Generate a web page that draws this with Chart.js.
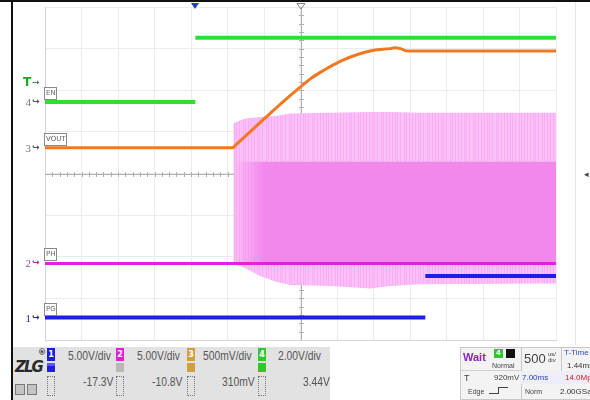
<!DOCTYPE html>
<html><head><meta charset="utf-8">
<script src="https://cdn.jsdelivr.net/npm/chart.js@4/dist/chart.umd.min.js"></script>
<style>
html,body{margin:0;padding:0;background:#fff;}
#wrap{position:relative;width:590px;height:400px;overflow:hidden;font-family:"Liberation Sans",Arial,sans-serif;}
#c{position:absolute;left:0;top:0;}
.t{position:absolute;white-space:nowrap;line-height:1;}
.n{transform:scaleX(0.86);transform-origin:0 0;font-size:12px;color:#555;}
.box{position:absolute;box-sizing:border-box;}
.cb{position:absolute;width:8px;height:13px;color:#fff;font:bold 8px 'DejaVu Sans';text-align:center;line-height:13px;}
</style></head><body>
<div id="wrap">
<canvas id="c" width="590" height="400"></canvas>
<div class="box" style="left:0;top:0;width:590px;height:2px;background:#111"></div>
<div class="box" style="left:11px;top:0;width:2px;height:400px;background:#111"></div>
<div class="box" style="left:575px;top:2px;width:1px;height:343px;background:#e4e4e4"></div>
<div class="t" style="left:584px;top:169px;font:9px 'DejaVu Sans';color:#444">&#9666;</div>
<div class="box" style="left:13px;top:347px;width:317px;height:53px;background:#e2e2e2"></div>
<!-- logo -->
<div class="t" style="left:15px;top:358px;font:italic bold 15px 'DejaVu Sans';color:#2a2a2a;letter-spacing:-2px">ZLG</div>
<div class="t" style="left:38px;top:348px;font:bold 8px 'DejaVu Sans';color:#333">&#174;</div>
<div class="box" style="left:15px;top:384px;width:10px;height:11px;background:#c4c4c4;border:1px solid #7a7a7a"></div>
<div class="box" style="left:27px;top:384px;width:10px;height:11px;background:#c4c4c4;border:1px solid #7a7a7a"></div>
<!-- channel 1 -->
<div class="cb" style="left:47px;top:348px;background:#1e1ee0">1</div>
<div class="box" style="left:47px;top:363px;width:8px;height:9px;background:#1e1ee0;border-top:3px solid #5a5af0"></div>
<div class="box" style="left:47px;top:376px;width:8px;height:20px;border:1px dotted #777"></div>
<div class="t n" style="left:68px;top:350px">5.00V/div</div>
<div class="t n" style="left:83px;top:376px">-17.3V</div>
<!-- channel 2 -->
<div class="cb" style="left:116px;top:348px;background:#e020d8">2</div>
<div class="box" style="left:116px;top:363px;width:8px;height:9px;background:#b8b8b8"></div>
<div class="box" style="left:116px;top:376px;width:8px;height:20px;border:1px dotted #777"></div>
<div class="t n" style="left:137px;top:350px">5.00V/div</div>
<div class="t n" style="left:152px;top:376px">-10.8V</div>
<!-- channel 3 -->
<div class="cb" style="left:187px;top:348px;background:#d0a040">3</div>
<div class="box" style="left:187px;top:363px;width:8px;height:9px;background:#d0a040"></div>
<div class="box" style="left:187px;top:376px;width:8px;height:20px;border:1px dotted #777"></div>
<div class="t n" style="left:203px;top:350px">500mV/div</div>
<div class="t n" style="left:222px;top:376px">310mV</div>
<!-- channel 4 -->
<div class="cb" style="left:258px;top:348px;background:#2ec82e">4</div>
<div class="box" style="left:258px;top:363px;width:8px;height:9px;background:#2ec82e"></div>
<div class="box" style="left:258px;top:376px;width:8px;height:20px;border:1px dotted #777"></div>
<div class="t n" style="left:278px;top:350px">2.00V/div</div>
<div class="t n" style="left:303px;top:376px">3.44V</div>
<!-- right panel: trigger -->
<div class="box" style="left:460px;top:347px;width:62px;height:53px;background:#f3f3f3;border:1px solid #c8c8c8"></div>
<div class="box" style="left:460px;top:370px;width:62px;height:1px;background:#d0d0d0"></div>
<div class="t" style="left:463px;top:351px;font:bold 11px 'Liberation Sans';color:#8a22c8">Wait</div>
<div class="cb" style="left:494px;top:349px;width:9px;height:9px;line-height:9px;font-size:7px;background:#2ec82e">4</div>
<div class="box" style="left:506px;top:349px;width:9px;height:9px;background:#111;border-top:3px solid #111;border-bottom:3px solid #111;background-clip:content-box;"></div>
<div class="t" style="left:492px;top:362px;font-size:7px;color:#444">Normal</div>
<div class="t" style="left:464px;top:374px;font-size:9px;color:#444">T</div>
<div class="t" style="left:494px;top:374px;font-size:8px;color:#444">920mV</div>
<div class="t" style="left:468px;top:388px;font-size:7px;color:#444">Edge</div>
<div class="box" style="left:489px;top:393px;width:9px;height:1px;background:#444"></div>
<div class="box" style="left:498px;top:387px;width:1px;height:7px;background:#444"></div>
<div class="box" style="left:498px;top:387px;width:10px;height:1px;background:#444"></div>
<!-- right panel: timebase -->
<div class="box" style="left:521px;top:347px;width:69px;height:53px;background:#f3f3f3;border:1px solid #c8c8c8;border-right:none"></div>
<div class="box" style="left:521px;top:371px;width:69px;height:13px;background:#eeeef8"></div>
<div class="t" style="left:524px;top:352px;font-size:13px;color:#444">500</div>
<div class="t" style="left:548px;top:351px;font-size:6px;color:#444;line-height:6px">us/<br>div</div>
<div class="box" style="left:561px;top:347px;width:1px;height:24px;background:#c8c8c8"></div>
<div class="t" style="left:564px;top:349px;font-size:8px;color:#3050c0">T-Time</div>
<div class="t" style="left:567px;top:362px;font-size:8px;color:#333">1.44ms</div>
<div class="t" style="left:522px;top:374px;font-size:8px;color:#2a40b0">7.00ms</div>
<div class="t" style="left:565px;top:374px;font-size:8px;color:#d02020">14.0Mpt</div>
<div class="t" style="left:525px;top:388px;font-size:7px;color:#444">Norm</div>
<div class="t" style="left:560px;top:388px;font-size:8px;color:#333">2.00GSa/s</div>
</div>
<script>
// channel settings (1: PG, 2: PH, 3: VOUT, 4: EN)
const channelNames = ['PG', 'PH', 'VOUT', 'EN'];
const voltsPerDiv = [5.00, 5.00, 0.500, 2.00];
const channelOffsets = [-17.3, -10.8, 0.310, 3.44];
const channelColors = ['#1e1ee6', '#e61ee0', '#f07820', '#2ee02e'];
const msPerDiv = 0.5;
const tTime = 1.44;        // ms, screen centre relative to trigger
const triggerLevel = 0.92; // V on channel 4

// EN (ch4) – null marks the undrawn fast edge
const enTime  = [-2.06, 0.00, 0.00, 0.00, 4.94];
const enVolts = [0.00, 0.00, null, 3.08, 3.08];
// VOUT (ch3)
const voutTime  = [-2.06, 0.51, 0.55, 0.96, 1.20, 1.44, 1.58, 1.76, 1.99, 2.22, 2.44, 2.67, 2.73, 2.81, 2.91, 4.94];
const voutVolts = [0.00, 0.00, 0.03, 0.36, 0.55, 0.73, 0.83, 0.93, 1.04, 1.12, 1.17, 1.19, 1.20, 1.19, 1.16, 1.16];
// PH (ch2) switching envelope
const phEnvTime = [0.52, 0.62, 0.69, 0.89, 1.10, 1.30, 1.85, 2.40, 2.67, 3.08, 4.94];
const phEnvMax  = [16.8, 17.2, 17.4, 17.6, 17.7, 18.0, 18.1, 18.2, 18.2, 18.1, 18.1];
const phEnvMin  = [-0.1, -0.3, -0.6, -1.5, -2.2, -2.6, -2.7, -3.0, -2.7, -2.5, -2.4];
const phHighTime  = [0.53, 4.94];
const phHighVolts = [12.2, 12.2];
const phLowTime  = [-2.06, 4.94];
const phLowVolts = [0.00, 0.00];
// PG (ch1)
const pgTime  = [-2.06, 3.15, 3.15, 3.15, 4.94];
const pgVolts = [0.00, 0.00, null, 5.00, 5.00];

const xMin = tTime - 7 * msPerDiv, xMax = tTime + 7 * msPerDiv;
const pts = (xs, ys) => xs.map((x, i) => ({x, y: ys[i]}));
const axisRange = i => ({min: -4 * voltsPerDiv[i] - channelOffsets[i], max: 4 * voltsPerDiv[i] - channelOffsets[i]});

const hiddenY = i => Object.assign({
  type: 'linear', display: true, position: 'left',
  grid: {display: false, drawTicks: false}, border: {display: false},
  ticks: {display: false}, afterFit: a => { a.width = 0; }
}, axisRange(i));

function stripePattern(base, dark) {
  const p = document.createElement('canvas'); p.width = 23; p.height = 4;
  const g = p.getContext('2d');
  g.fillStyle = base; g.fillRect(0, 0, 23, 4);
  g.fillStyle = dark;
  [1, 4, 6, 9, 13, 15, 18, 21].forEach(x => g.fillRect(x, 0, 1, 4));
  return g.createPattern(p, 'repeat');
}
const lightPink = stripePattern('#fcc0f8', '#f8acf3');

function midBand(ctx) {
  const chart = ctx.chart, a = chart.chartArea;
  if (!a) return '#f592ef';
  const x = chart.scales.x;
  const g = chart.ctx.createLinearGradient(x.getPixelForValue(phHighTime[0]), 0, x.getPixelForValue(0.95), 0);
  g.addColorStop(0, 'rgba(242,136,236,0)');
  g.addColorStop(1, 'rgba(242,136,236,1)');
  return g;
}

const overlay = {
  id: 'overlay',
  beforeDatasetsDraw(chart) {
    const {ctx, chartArea: a, scales} = chart;
    const cx = Math.round(scales.x.getPixelForValue(tTime)), cy = Math.round(scales.yDiv.getPixelForValue(0));
    ctx.save();
    ctx.strokeStyle = '#b0b0b0'; ctx.lineWidth = 1;
    ctx.beginPath();
    ctx.moveTo(a.left, cy + 0.5); ctx.lineTo(a.right, cy + 0.5);
    ctx.moveTo(cx + 0.5, a.top); ctx.lineTo(cx + 0.5, a.bottom);
    const dx = (a.right - a.left) / 70, dy = (a.bottom - a.top) / 40;
    for (let k = 1; k < 70; k++) { const x = Math.round(a.left + k * dx) + 0.5; ctx.moveTo(x, cy - 2); ctx.lineTo(x, cy + 3); }
    for (let k = 1; k < 40; k++) { const y = Math.round(a.top + k * dy) + 0.5; ctx.moveTo(cx - 2, y); ctx.lineTo(cx + 3, y); }
    ctx.stroke();
    ctx.restore();
  },
  afterDatasetsDraw(chart) {
    const {ctx, chartArea: a, scales} = chart;
    ctx.save();
    ctx.textBaseline = 'middle';
    const ids = ['y1', 'y2', 'y3', 'y4'];
    const tagW = [12, 12, 22, 12];
    const numCol = ['#2a2a9a', '#a84aa0', '#777', '#777'];
    const arrCol = ['#2020b0', '#b030a8', '#555', '#555'];
    ids.forEach((id, i) => {
      const y = Math.round(scales[id].getPixelForValue(0));
      ctx.fillStyle = numCol[i];
      ctx.font = '11px "Liberation Serif"';
      ctx.textAlign = 'right';
      ctx.fillText(String(i + 1), 31, y + 1);
      ctx.font = 'bold 9px "DejaVu Sans"';
      ctx.textAlign = 'left';
      ctx.fillStyle = arrCol[i];
      ctx.fillText('\u21AA', 32, y);
      // name tag
      ctx.fillStyle = '#fff'; ctx.strokeStyle = '#8a8a8a'; ctx.lineWidth = 1;
      ctx.fillRect(a.left - 0.5, y - 14.5, tagW[i], 12);
      ctx.strokeRect(a.left - 0.5, y - 14.5, tagW[i], 12);
      ctx.fillStyle = '#666'; ctx.font = '7px "DejaVu Sans"';
      ctx.fillText(channelNames[i], a.left + 1, y - 8.5);
    });
    // trigger level marker
    const ty = scales.y4.getPixelForValue(triggerLevel);
    ctx.fillStyle = '#1fa81f'; ctx.font = 'bold 12px "DejaVu Sans"'; ctx.textAlign = 'left';
    ctx.fillText('T', 23, ty);
    ctx.fillStyle = '#2a6a2a';
    ctx.font = '9px "DejaVu Sans"'; ctx.fillText('\u2192', 32, ty);
    // top markers
    const tx = Math.round(scales.x.getPixelForValue(0)), hx = Math.round(scales.x.getPixelForValue(tTime));
    ctx.fillStyle = '#2040c0';
    ctx.beginPath(); ctx.moveTo(tx - 4, 3); ctx.lineTo(tx + 4, 3); ctx.lineTo(tx, 9); ctx.closePath(); ctx.fill();
    ctx.strokeStyle = '#888';
    ctx.beginPath(); ctx.moveTo(hx - 4, 3.5); ctx.lineTo(hx + 4, 3.5); ctx.lineTo(hx, 9); ctx.closePath(); ctx.stroke();
    ctx.restore();
  }
};

new Chart(document.getElementById('c'), {
  type: 'line',
  data: {datasets: [
    {label: 'EN', data: pts(enTime, enVolts), yAxisID: 'y4', borderColor: channelColors[3], borderWidth: 4, order: 1},
    {label: 'VOUT', data: pts(voutTime, voutVolts), yAxisID: 'y3', borderColor: channelColors[2], borderWidth: 3, cubicInterpolationMode: 'monotone', order: 2},
    {label: 'PG', data: pts(pgTime, pgVolts), yAxisID: 'y1', borderColor: channelColors[0], borderWidth: 4, order: 3},
    {label: 'PH', data: pts(phLowTime, phLowVolts), yAxisID: 'y2', borderColor: channelColors[1], borderWidth: 3, order: 4},
    {label: 'PH high', data: pts(phHighTime, phHighVolts), yAxisID: 'y2', borderWidth: 0, borderColor: 'rgba(0,0,0,0)', backgroundColor: midBand, fill: {value: 0}, order: 5},
    {label: 'PH max', data: pts(phEnvTime, phEnvMax), yAxisID: 'y2', borderWidth: 0, borderColor: 'rgba(0,0,0,0)', backgroundColor: lightPink, fill: '+1', order: 6},
    {label: 'PH min', data: pts(phEnvTime, phEnvMin), yAxisID: 'y2', borderWidth: 0, borderColor: 'rgba(0,0,0,0)', fill: false, order: 7}
  ]},
  options: {
    responsive: false, animation: false, devicePixelRatio: 1,
    layout: {padding: {left: 45, right: 34, top: 7, bottom: 60}},
    elements: {point: {radius: 0}, line: {tension: 0, borderCapStyle: 'butt'}},
    plugins: {legend: {display: false}, tooltip: {enabled: false}},
    scales: {
      x: {type: 'linear', min: xMin, max: xMax, position: 'bottom',
        grid: {color: '#ececec', drawTicks: false}, border: {color: '#d4d4d4'},
        ticks: {display: false},
        afterBuildTicks: a => { a.ticks = Array.from({length: 15}, (_, k) => ({value: xMin + k * msPerDiv})); },
        afterFit: a => { a.height = 0; }},
      yDiv: {type: 'linear', min: -4, max: 4, position: 'left',
        grid: {color: '#ececec', drawTicks: false}, border: {color: '#d4d4d4'},
        ticks: {display: false, stepSize: 1},
        afterFit: a => { a.width = 0; }},
      y1: hiddenY(0), y2: hiddenY(1), y3: hiddenY(2), y4: hiddenY(3)
    }
  },
  plugins: [overlay]
});
</script>
</body></html>
